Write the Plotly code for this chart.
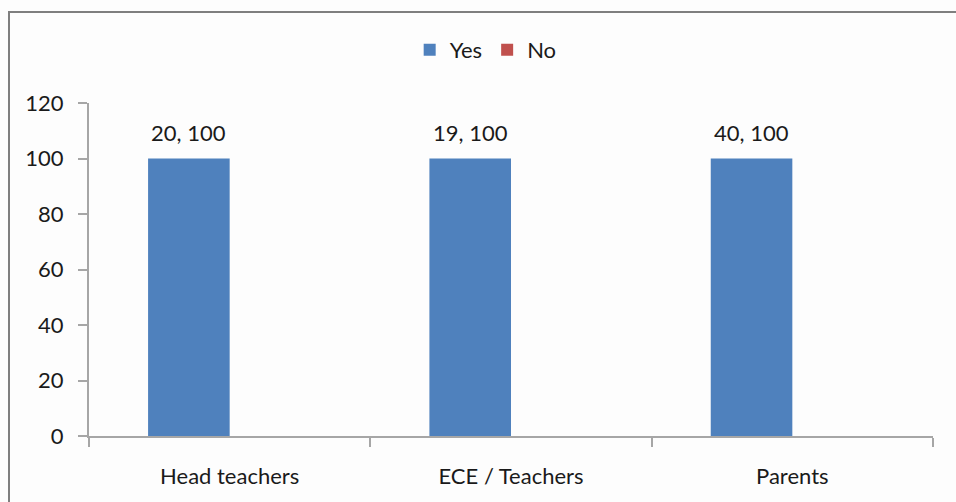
import plotly.graph_objects as go

# Survey responses per respondent group
categories = ["Head teachers", "ECE / Teachers", "Parents"]
respondents = [20, 19, 40]
yes_pct = [100, 100, 100]
no_pct = [0, 0, 0]

FONT = "Lato"
FS = 22
TXT = "#1a1a1a"
BLUE = "#4F81BD"
RED = "#C0504D"

fig = go.Figure()
fig.add_trace(go.Bar(name="Yes", x=categories, y=yes_pct, marker=dict(color=BLUE, line=dict(width=0))))
fig.add_trace(go.Bar(name="No", x=categories, y=no_pct, marker=dict(color=RED, line=dict(width=0))))

# "n, %" labels above the Yes bars
W, H = 956, 502
ml, mr, mt, mb = 89, 23, 103, 66
plot_w = W - ml - mr
bargap = 0.42
cat_w = plot_w / len(categories)
bar_w = cat_w * (1 - bargap) / 2
for cat, n, p in zip(categories, respondents, yes_pct):
    fig.add_annotation(
        x=cat, y=p, xref="x", yref="y",
        text=f"{n}, {p}", showarrow=False,
        xshift=-bar_w / 2, yshift=26, yanchor="middle",
        font=dict(family=FONT, size=FS, color=TXT),
    )

# outer chart frame
plot_h = H - mt - mb
def px_to_paper_x(px):
    return (px - ml) / plot_w
def px_to_paper_y(py):
    return (H - mb - py) / plot_h
fig.add_shape(
    type="rect", xref="paper", yref="paper",
    x0=px_to_paper_x(9), x1=px_to_paper_x(970),
    y0=px_to_paper_y(520), y1=px_to_paper_y(12),
    line=dict(color="#7F7F7F", width=2), fillcolor="rgba(0,0,0,0)", layer="below",
)

fig.update_layout(
    width=W, height=H,
    margin=dict(l=ml, r=mr, t=mt, b=mb),
    paper_bgcolor="#FDFDFD", plot_bgcolor="#FDFDFD",
    barmode="group", bargap=bargap, bargroupgap=0,
    font=dict(family=FONT, size=FS, color=TXT),
    showlegend=True,
    legend=dict(
        orientation="h", x=0.47, xanchor="center", y=px_to_paper_y(50), yanchor="middle",
        font=dict(family=FONT, size=FS, color=TXT), bgcolor="rgba(0,0,0,0)",
    ),
    xaxis=dict(
        showline=True, linecolor="#A6A6A6", linewidth=2,
        ticks="outside", tickson="boundaries", ticklen=9, tickcolor="#A6A6A6", tickwidth=2,
        ticklabelstandoff=20,
        showgrid=False, zeroline=False,
        tickfont=dict(family=FONT, size=FS, color=TXT),
    ),
    yaxis=dict(
        range=[0, 120], dtick=20, showline=True, linecolor="#A6A6A6", linewidth=2,
        ticks="outside", ticklen=9, tickcolor="#A6A6A6", tickwidth=2,
        ticklabelstandoff=10,
        showgrid=False, zeroline=False,
        tickfont=dict(family=FONT, size=FS, color=TXT),
    ),
)

fig.write_html("out.html")
